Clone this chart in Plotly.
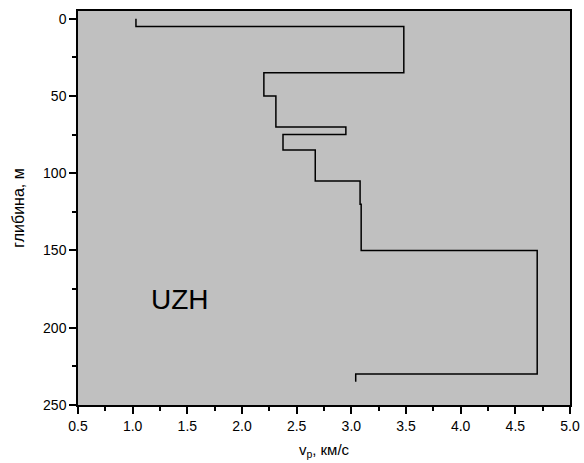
import plotly.graph_objects as go

# Layer model: top depth, bottom depth (m), P-velocity (km/s)
layer_top = [0, 5, 35, 50, 70, 75, 85, 105, 120, 150, 230]
layer_bottom = [5, 35, 50, 70, 75, 85, 105, 120, 150, 230, 235]
vp = [1.03, 3.48, 2.20, 2.31, 2.95, 2.375, 2.67, 3.08, 3.09, 4.70, 3.04]

x_ticks = [0.5, 1.0, 1.5, 2.0, 2.5, 3.0, 3.5, 4.0, 4.5, 5.0]
x_tick_labels = ["0.5", "1.0", "1.5", "2.0", "2.5", "3.0", "3.5", "4.0", "4.5", "5.0"]
y_ticks = [0, 50, 100, 150, 200, 250]
y_tick_labels = ["0", "50", "100", "150", "200", "250"]

xs, ys = [], []
for t, b, v in zip(layer_top, layer_bottom, vp):
    xs += [v, v]
    ys += [t, b]

fig = go.Figure()
fig.add_trace(go.Scatter(x=xs, y=ys, mode="lines",
                         line=dict(color="black", width=1.5),
                         showlegend=False, hoverinfo="skip"))

fig.add_annotation(x=1.43, y=182, text="UZH", showarrow=False,
                   font=dict(size=28, color="black", family="Liberation Sans"))

axis_font = dict(family="Liberation Sans", size=14, color="black")
fig.update_layout(
    width=584, height=463,
    margin=dict(l=78, r=14, t=11, b=58),
    paper_bgcolor="white", plot_bgcolor="#c0c0c0",
    font=axis_font,
    xaxis=dict(range=[0.5, 5.0], tickvals=x_ticks, ticktext=x_tick_labels,
               automargin=False,
               ticks="outside", ticklen=7, tickwidth=1.5, tickcolor="black",
               showgrid=False, zeroline=False,
               showline=True, linecolor="black", linewidth=1.5, mirror=True,
               minor=dict(dtick=0.25, ticks="outside", ticklen=4, tickwidth=1.5,
                          tickcolor="black", showgrid=False),
               title=dict(text="v<sub>p</sub>, км/с", font=dict(size=15), standoff=12),
               tickfont=axis_font),
    yaxis=dict(range=[250, -5], tickvals=y_ticks, ticktext=y_tick_labels,
               automargin=False,
               ticks="outside", ticklen=7, tickwidth=1.5, tickcolor="black",
               showgrid=False, zeroline=False,
               showline=True, linecolor="black", linewidth=1.5, mirror=True,
               minor=dict(tickvals=[25, 75, 125, 175, 225], ticks="outside", ticklen=4,
                          tickwidth=1.5, tickcolor="black", showgrid=False),
               title=dict(text="глибина, м", font=dict(size=16), standoff=14),
               tickfont=axis_font),
)

fig.write_html("out.html")
